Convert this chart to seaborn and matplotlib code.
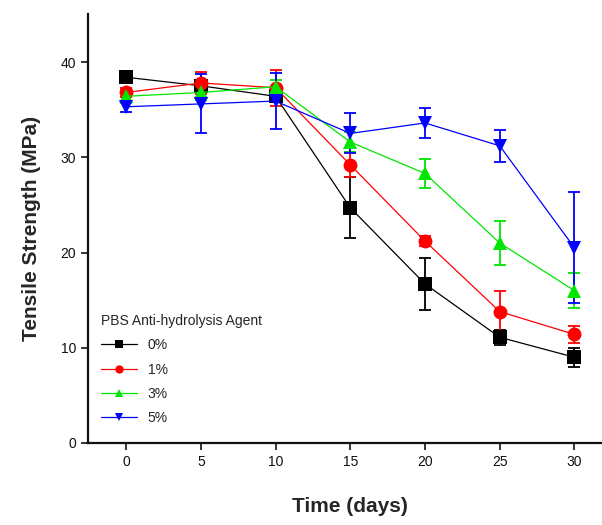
import numpy as np
import pandas as pd
import matplotlib
matplotlib.use("Agg")
import matplotlib.pyplot as plt
import seaborn as sns

# Tensile strength of PBS over hydrolysis time for several anti-hydrolysis agent loadings
days = [0, 5, 10, 15, 20, 25, 30]
agent_levels = ["0%", "1%", "3%", "5%"]

strength_0 = [38.4, 37.5, 36.4, 24.7, 16.7, 11.1, 9.0]
strength_1 = [36.8, 37.8, 37.3, 29.2, 21.2, 13.8, 11.4]
strength_3 = [36.4, 36.8, 37.4, 31.6, 28.3, 21.0, 16.0]
strength_5 = [35.3, 35.6, 35.9, 32.5, 33.6, 31.2, 20.5]

err_0 = [0.4, 0.6, 0.6, 3.2, 2.7, 0.8, 1.0]
err_1 = [0.5, 1.2, 1.9, 1.3, 0.5, 2.2, 0.9]
err_3 = [0.7, 0.8, 0.7, 1.0, 1.5, 2.3, 1.8]
err_5 = [0.6, 3.1, 2.9, 2.1, 1.6, 1.7, 5.8]

x_ticks = [0, 5, 10, 15, 20, 25, 30]
y_ticks = [0, 10, 20, 30, 40]

series = {"0%": strength_0, "1%": strength_1, "3%": strength_3, "5%": strength_5}
errors = {"0%": err_0, "1%": err_1, "3%": err_3, "5%": err_5}
colors = {"0%": "#000000", "1%": "#ff0000", "3%": "#00e600", "5%": "#0000ff"}
markers = {"0%": "s", "1%": "o", "3%": "^", "5%": "v"}

df = pd.DataFrame(
    [(d, lvl, v) for lvl in agent_levels for d, v in zip(days, series[lvl])],
    columns=["Time", "Agent", "Strength"],
)

sns.set_theme(style="ticks")
plt.rcParams["font.family"] = ["Liberation Sans", "DejaVu Sans"]

fig = plt.figure(figsize=(6.02, 5.25), dpi=100)
ax = fig.add_axes([0.1462, 0.1562, 0.8688, 0.8164])

# error bars beneath the markers
for lvl in agent_levels:
    ax.errorbar(days, series[lvl], yerr=errors[lvl], fmt="none",
                ecolor=colors[lvl], elinewidth=1.3, capsize=4, capthick=1.3, zorder=2)

sns.lineplot(data=df, x="Time", y="Strength", hue="Agent", style="Agent",
             hue_order=agent_levels, style_order=agent_levels,
             palette=colors, markers=markers, dashes=False,
             markersize=10, markeredgewidth=0, linewidth=0.9, ax=ax, zorder=3)

ax.set_xlim(-2.55, 32.45)
ax.set_ylim(0, 45)
ax.set_xticks(x_ticks)
ax.set_yticks(y_ticks)
ax.tick_params(axis="both", direction="out", length=5, width=1.2, labelsize=10,
               colors="#111111")
for side in ["top", "right"]:
    ax.spines[side].set_visible(False)
for side in ["left", "bottom"]:
    ax.spines[side].set_linewidth(1.6)
    ax.spines[side].set_color("#111111")

ax.set_xlabel("Time (days)", fontsize=15, fontweight="bold", labelpad=20)
ax.set_ylabel("Tensile Strength (MPa)", fontsize=15, fontweight="bold", labelpad=14)

leg = ax.legend(title="PBS Anti-hydrolysis Agent", loc="lower left",
                bbox_to_anchor=(0.0, 0.012), frameon=False, fontsize=10,
                title_fontsize=10, handlelength=2.6, labelspacing=0.75,
                markerscale=0.6)
leg._legend_box.align = "left"

fig.savefig("out.png", dpi=100)
